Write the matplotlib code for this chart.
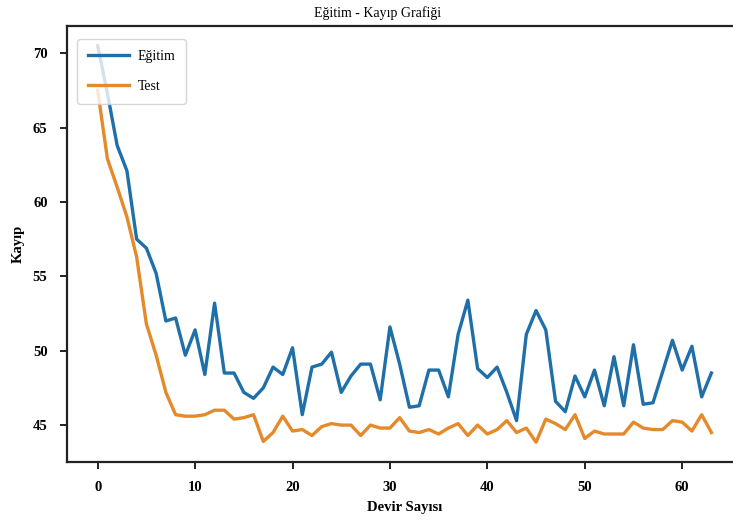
import matplotlib
matplotlib.use("Agg")
import matplotlib.pyplot as plt

plt.rcParams["font.family"] = ["Liberation Serif", "DejaVu Serif"]

# -----------------------------
# Loss values
# -----------------------------
epochs = list(range(64))

egitim = [70.5, 67.3, 63.8, 62.1, 57.5, 56.9, 55.2, 52.0, 52.2, 49.7,
          51.4, 48.4, 53.2, 48.5, 48.5, 47.2, 46.8, 47.5, 48.9, 48.4,
          50.2, 45.7, 48.9, 49.1, 49.9, 47.2, 48.3, 49.1, 49.1, 46.7,
          51.6, 49.1, 46.2, 46.3, 48.7, 48.7, 46.9, 51.1, 53.4, 48.8,
          48.2, 48.9, 47.2, 45.3, 51.1, 52.7, 51.4, 46.6, 45.9, 48.3,
          46.9, 48.7, 46.3, 49.6, 46.3, 50.4, 46.4, 46.5, 48.6, 50.7,
          48.7, 50.3, 46.9, 48.5]

test = [67.5, 62.9, 61.0, 59.0, 56.3, 51.8, 49.7, 47.2, 45.7, 45.6,
        45.6, 45.7, 46.0, 46.0, 45.4, 45.5, 45.7, 43.9, 44.5, 45.6,
        44.6, 44.7, 44.3, 44.9, 45.1, 45.0, 45.0, 44.3, 45.0, 44.8,
        44.8, 45.5, 44.6, 44.5, 44.7, 44.4, 44.8, 45.1, 44.3, 45.0,
        44.4, 44.7, 45.3, 44.5, 44.8, 43.85, 45.4, 45.1, 44.7, 45.7,
        44.1, 44.6, 44.4, 44.4, 44.4, 45.2, 44.8, 44.7, 44.7, 45.3,
        45.2, 44.6, 45.7, 44.5]

# -----------------------------
# Plot
# -----------------------------
fig = plt.figure(figsize=(7.33, 5.2), dpi=100)
ax = fig.add_axes([0.0914, 0.1115, 0.921, 0.8385])

ax.plot(epochs, egitim, color="#1f6fa8", lw=2.4, label="Eğitim")
ax.plot(epochs, test, color="#e48a2a", lw=2.4, label="Test")

for s in ax.spines.values():
    s.set_linewidth(1.6)
    s.set_color("#222222")

ax.tick_params(direction="out", length=5, width=1.4, color="#222222",
               labelsize=10.5, pad=9)
for lab in ax.get_xticklabels() + ax.get_yticklabels():
    lab.set_fontweight("bold")

ax.set_xlabel("Devir Sayısı", fontsize=10.5, fontweight="bold", labelpad=5)
ax.set_ylabel("Kayıp", fontsize=10.5, fontweight="bold", labelpad=6)
fig.text(0.515, 0.975, "Eğitim - Kayıp Grafiği", ha="center", va="center", fontsize=10)

leg = ax.legend(loc="upper left", fontsize=10, handlelength=3.0, labelspacing=1.25,
                borderpad=0.75, handletextpad=0.6, fancybox=True, framealpha=0.8,
                bbox_to_anchor=(0.005, 0.985))
leg.get_frame().set_edgecolor("#cccccc")

fig.savefig("out.png", dpi=100)
